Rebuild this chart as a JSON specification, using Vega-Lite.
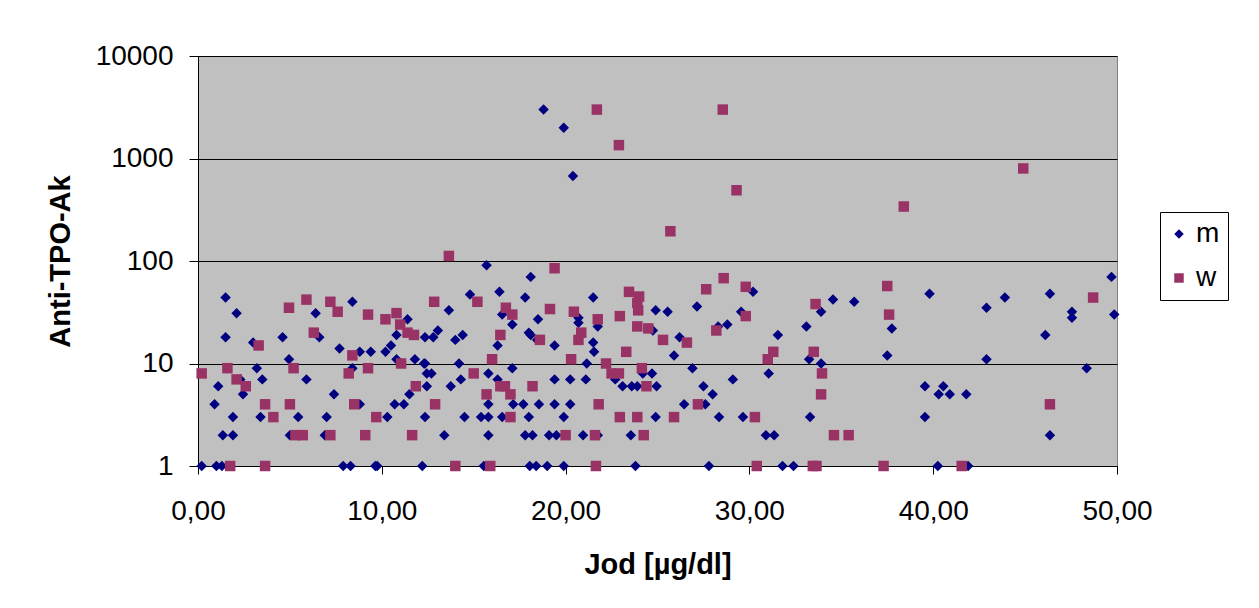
{
"$schema": "https://vega.github.io/schema/vega-lite/v6.json",
"width": 919, "height": 410,
"autosize": {"type": "none"},
"padding": {"left": 198, "top": 56, "right": 142, "bottom": 142},
"background": "white",
"config": {"view": {"fill": "#C0C0C0", "stroke": "#808080", "strokeWidth": 1}, "font": "Liberation Sans"},
"data": {"values": [
{"j":18.8,"a":3000,"g":"m"},{"j":19.9,"a":2000,"g":"m"},{"j":20.4,"a":675,"g":"m"},{"j":15.7,"a":91,"g":"m"},{"j":18.1,"a":70,"g":"m"},{"j":14.8,"a":47,"g":"m"},{"j":16.4,"a":50,"g":"m"},{"j":17.8,"a":44,"g":"m"},{"j":21.5,"a":44,"g":"m"},{"j":24.9,"a":33,"g":"m"},{"j":13.65,"a":33,"g":"m"},{"j":16.55,"a":30,"g":"m"},{"j":18.5,"a":27,"g":"m"},{"j":20.7,"a":28,"g":"m"},{"j":20.7,"a":25,"g":"m"},{"j":21.75,"a":23,"g":"m"},{"j":24.75,"a":21,"g":"m"},{"j":17.1,"a":24,"g":"m"},{"j":13.05,"a":21,"g":"m"},{"j":12.35,"a":18,"g":"m"},{"j":12.8,"a":18,"g":"m"},{"j":14.0,"a":17,"g":"m"},{"j":14.4,"a":19,"g":"m"},{"j":16.3,"a":15,"g":"m"},{"j":18.0,"a":20,"g":"m"},{"j":18.1,"a":19,"g":"m"},{"j":18.45,"a":17,"g":"m"},{"j":19.4,"a":15,"g":"m"},{"j":21.5,"a":16,"g":"m"},{"j":21.55,"a":13,"g":"m"},{"j":12.3,"a":10,"g":"m"},{"j":14.2,"a":10,"g":"m"},{"j":17.1,"a":9,"g":"m"},{"j":21.15,"a":10,"g":"m"},
{"j":0.2,"a":1,"g":"m"},{"j":0.9,"a":4,"g":"m"},{"j":1.1,"a":6,"g":"m"},{"j":1.3,"a":1,"g":"m"},{"j":1.0,"a":1,"g":"m"},{"j":1.35,"a":2,"g":"m"},{"j":1.5,"a":44,"g":"m"},{"j":1.5,"a":18,"g":"m"},{"j":1.9,"a":2,"g":"m"},{"j":1.9,"a":3,"g":"m"},{"j":2.1,"a":31,"g":"m"},{"j":2.3,"a":7,"g":"m"},{"j":2.45,"a":5,"g":"m"},{"j":3.0,"a":16,"g":"m"},{"j":3.2,"a":9,"g":"m"},{"j":3.4,"a":3,"g":"m"},{"j":3.5,"a":7,"g":"m"},{"j":4.6,"a":18,"g":"m"},{"j":4.95,"a":11,"g":"m"},{"j":6.4,"a":31,"g":"m"},{"j":6.6,"a":18,"g":"m"},{"j":8.4,"a":40,"g":"m"},{"j":7.7,"a":14,"g":"m"},{"j":8.8,"a":13,"g":"m"},{"j":9.4,"a":13,"g":"m"},{"j":11.4,"a":27,"g":"m"},{"j":10.8,"a":19,"g":"m"},{"j":10.5,"a":15,"g":"m"},{"j":10.2,"a":13,"g":"m"},{"j":11.8,"a":11,"g":"m"},{"j":12.35,"a":10,"g":"m"},{"j":10.8,"a":11,"g":"m"},{"j":5.0,"a":2,"g":"m"},{"j":5.45,"a":3,"g":"m"},{"j":5.9,"a":7,"g":"m"},{"j":7.0,"a":3,"g":"m"},{"j":7.4,"a":5,"g":"m"},{"j":8.4,"a":9,"g":"m"},{"j":8.8,"a":4,"g":"m"},{"j":6.9,"a":2,"g":"m"},{"j":10.3,"a":3,"g":"m"},{"j":10.7,"a":4,"g":"m"},{"j":11.2,"a":4,"g":"m"},{"j":11.5,"a":5,"g":"m"},{"j":12.35,"a":3,"g":"m"},{"j":12.45,"a":8,"g":"m"},{"j":7.9,"a":1,"g":"m"},{"j":8.3,"a":1,"g":"m"},{"j":9.65,"a":1,"g":"m"},{"j":9.75,"a":1,"g":"m"},{"j":12.2,"a":1,"g":"m"},
{"j":12.7,"a":8,"g":"m"},{"j":14.3,"a":7,"g":"m"},{"j":15.8,"a":8,"g":"m"},{"j":16.3,"a":7,"g":"m"},{"j":12.45,"a":6,"g":"m"},{"j":13.75,"a":6,"g":"m"},{"j":19.4,"a":7,"g":"m"},{"j":20.25,"a":7,"g":"m"},{"j":21.1,"a":7,"g":"m"},{"j":22.7,"a":7,"g":"m"},{"j":23.1,"a":6,"g":"m"},{"j":23.6,"a":6,"g":"m"},{"j":23.9,"a":6,"g":"m"},{"j":24.2,"a":8,"g":"m"},{"j":24.7,"a":8,"g":"m"},{"j":15.8,"a":4,"g":"m"},{"j":17.15,"a":4,"g":"m"},{"j":17.7,"a":4,"g":"m"},{"j":18.55,"a":4,"g":"m"},{"j":19.4,"a":4,"g":"m"},{"j":20.25,"a":4,"g":"m"},{"j":14.5,"a":3,"g":"m"},{"j":15.4,"a":3,"g":"m"},{"j":15.8,"a":3,"g":"m"},{"j":16.55,"a":3,"g":"m"},{"j":18.0,"a":3,"g":"m"},{"j":19.9,"a":3,"g":"m"},{"j":24.9,"a":3,"g":"m"},{"j":13.4,"a":2,"g":"m"},{"j":15.8,"a":2,"g":"m"},{"j":17.8,"a":2,"g":"m"},{"j":18.2,"a":2,"g":"m"},{"j":19.1,"a":2,"g":"m"},{"j":19.5,"a":2,"g":"m"},{"j":20.95,"a":2,"g":"m"},{"j":21.75,"a":2,"g":"m"},{"j":23.55,"a":2,"g":"m"},{"j":15.55,"a":1,"g":"m"},{"j":18.05,"a":1,"g":"m"},{"j":18.4,"a":1,"g":"m"},{"j":19.0,"a":1,"g":"m"},{"j":19.9,"a":1,"g":"m"},{"j":23.8,"a":1,"g":"m"},
{"j":30.2,"a":50,"g":"m"},{"j":27.15,"a":36,"g":"m"},{"j":25.55,"a":32,"g":"m"},{"j":29.55,"a":32,"g":"m"},{"j":28.3,"a":23,"g":"m"},{"j":28.8,"a":24,"g":"m"},{"j":26.2,"a":18,"g":"m"},{"j":25.9,"a":12,"g":"m"},{"j":26.9,"a":9,"g":"m"},{"j":31.55,"a":19,"g":"m"},{"j":33.1,"a":23,"g":"m"},{"j":33.9,"a":32,"g":"m"},{"j":34.55,"a":42,"g":"m"},{"j":35.7,"a":40,"g":"m"},{"j":33.25,"a":11,"g":"m"},{"j":33.9,"a":10,"g":"m"},{"j":37.5,"a":12,"g":"m"},{"j":31.05,"a":8,"g":"m"},{"j":24.95,"a":6,"g":"m"},{"j":27.5,"a":6,"g":"m"},{"j":29.1,"a":7,"g":"m"},{"j":28.0,"a":5,"g":"m"},{"j":26.45,"a":4,"g":"m"},{"j":27.6,"a":4,"g":"m"},{"j":28.35,"a":3,"g":"m"},{"j":29.65,"a":3,"g":"m"},{"j":33.3,"a":3,"g":"m"},{"j":30.9,"a":2,"g":"m"},{"j":31.35,"a":2,"g":"m"},{"j":27.8,"a":1,"g":"m"},{"j":31.8,"a":1,"g":"m"},{"j":32.4,"a":1,"g":"m"},
{"j":37.75,"a":22,"g":"m"},{"j":39.8,"a":48,"g":"m"},{"j":42.9,"a":35,"g":"m"},{"j":43.9,"a":44,"g":"m"},{"j":46.35,"a":48,"g":"m"},{"j":47.55,"a":32,"g":"m"},{"j":47.55,"a":28,"g":"m"},{"j":46.1,"a":19,"g":"m"},{"j":49.7,"a":70,"g":"m"},{"j":49.85,"a":30,"g":"m"},{"j":42.9,"a":11,"g":"m"},{"j":48.35,"a":9,"g":"m"},{"j":39.55,"a":6,"g":"m"},{"j":40.55,"a":6,"g":"m"},{"j":40.3,"a":5,"g":"m"},{"j":40.9,"a":5,"g":"m"},{"j":41.8,"a":5,"g":"m"},{"j":39.55,"a":3,"g":"m"},{"j":46.35,"a":2,"g":"m"},{"j":40.25,"a":1,"g":"m"},{"j":41.9,"a":1,"g":"m"},
{"j":21.7,"a":3000,"g":"w"},{"j":22.9,"a":1350,"g":"w"},{"j":28.55,"a":3000,"g":"w"},{"j":29.3,"a":490,"g":"w"},{"j":25.7,"a":195,"g":"w"},{"j":44.9,"a":800,"g":"w"},{"j":38.4,"a":340,"g":"w"},{"j":13.65,"a":112,"g":"w"},{"j":19.4,"a":85,"g":"w"},
{"j":0.2,"a":8,"g":"w"},{"j":1.6,"a":9,"g":"w"},{"j":1.75,"a":1,"g":"w"},{"j":2.1,"a":7,"g":"w"},{"j":2.6,"a":6,"g":"w"},{"j":3.3,"a":15,"g":"w"},{"j":3.65,"a":4,"g":"w"},{"j":3.65,"a":1,"g":"w"},{"j":4.1,"a":3,"g":"w"},{"j":4.95,"a":35,"g":"w"},{"j":5.9,"a":42,"g":"w"},{"j":6.3,"a":20,"g":"w"},{"j":7.2,"a":40,"g":"w"},{"j":7.6,"a":32,"g":"w"},{"j":8.4,"a":12,"g":"w"},{"j":9.25,"a":30,"g":"w"},{"j":10.2,"a":27,"g":"w"},{"j":10.8,"a":31,"g":"w"},{"j":11.0,"a":24,"g":"w"},{"j":11.4,"a":20,"g":"w"},{"j":11.75,"a":19,"g":"w"},{"j":11.05,"a":10,"g":"w"},{"j":12.85,"a":40,"g":"w"},{"j":5.2,"a":9,"g":"w"},{"j":5.0,"a":4,"g":"w"},{"j":8.2,"a":8,"g":"w"},{"j":9.25,"a":9,"g":"w"},{"j":8.5,"a":4,"g":"w"},{"j":9.7,"a":3,"g":"w"},{"j":11.85,"a":6,"g":"w"},{"j":5.3,"a":2,"g":"w"},{"j":5.7,"a":2,"g":"w"},{"j":7.2,"a":2,"g":"w"},{"j":9.1,"a":2,"g":"w"},{"j":11.65,"a":2,"g":"w"},
{"j":15.2,"a":40,"g":"w"},{"j":16.75,"a":35,"g":"w"},{"j":17.1,"a":30,"g":"w"},{"j":19.15,"a":34,"g":"w"},{"j":20.45,"a":32,"g":"w"},{"j":21.75,"a":27,"g":"w"},{"j":22.95,"a":29,"g":"w"},{"j":23.45,"a":50,"g":"w"},{"j":24.0,"a":45,"g":"w"},{"j":23.9,"a":39,"g":"w"},{"j":23.95,"a":33,"g":"w"},{"j":23.9,"a":23,"g":"w"},{"j":24.5,"a":22,"g":"w"},{"j":16.45,"a":19,"g":"w"},{"j":18.6,"a":17,"g":"w"},{"j":20.85,"a":20,"g":"w"},{"j":20.7,"a":17,"g":"w"},{"j":23.3,"a":13,"g":"w"},{"j":16.0,"a":11,"g":"w"},{"j":20.3,"a":11,"g":"w"},{"j":22.2,"a":10,"g":"w"},{"j":24.15,"a":9,"g":"w"},{"j":15.0,"a":8,"g":"w"},{"j":16.45,"a":6,"g":"w"},{"j":16.7,"a":6,"g":"w"},{"j":18.2,"a":6,"g":"w"},{"j":22.5,"a":8,"g":"w"},{"j":22.9,"a":8,"g":"w"},{"j":24.4,"a":6,"g":"w"},{"j":15.7,"a":5,"g":"w"},{"j":17.0,"a":5,"g":"w"},{"j":12.9,"a":4,"g":"w"},{"j":21.8,"a":4,"g":"w"},{"j":17.0,"a":3,"g":"w"},{"j":22.95,"a":3,"g":"w"},{"j":23.9,"a":3,"g":"w"},{"j":20.0,"a":2,"g":"w"},{"j":21.6,"a":2,"g":"w"},{"j":24.25,"a":2,"g":"w"},{"j":14.0,"a":1,"g":"w"},{"j":15.9,"a":1,"g":"w"},{"j":21.65,"a":1,"g":"w"},
{"j":28.6,"a":68,"g":"w"},{"j":27.65,"a":53,"g":"w"},{"j":29.8,"a":56,"g":"w"},{"j":29.8,"a":29,"g":"w"},{"j":28.2,"a":21,"g":"w"},{"j":26.6,"a":16,"g":"w"},{"j":25.3,"a":17,"g":"w"},{"j":33.6,"a":38,"g":"w"},{"j":37.5,"a":57,"g":"w"},{"j":37.6,"a":30,"g":"w"},{"j":31.3,"a":13,"g":"w"},{"j":31.0,"a":11,"g":"w"},{"j":33.5,"a":13,"g":"w"},{"j":33.95,"a":8,"g":"w"},{"j":33.9,"a":5,"g":"w"},{"j":27.2,"a":4,"g":"w"},{"j":25.9,"a":3,"g":"w"},{"j":30.3,"a":3,"g":"w"},{"j":34.6,"a":2,"g":"w"},{"j":35.4,"a":2,"g":"w"},{"j":30.4,"a":1,"g":"w"},{"j":33.45,"a":1,"g":"w"},{"j":33.65,"a":1,"g":"w"},{"j":37.3,"a":1,"g":"w"},{"j":46.35,"a":4,"g":"w"},{"j":48.7,"a":44,"g":"w"},{"j":41.55,"a":1,"g":"w"}
]},
"mark": {"type": "point", "filled": true, "opacity": 1, "size": 110},
"encoding": {
"x": {"field": "j", "type": "quantitative",
 "scale": {"domain": [0, 50], "nice": false, "zero": false},
 "axis": {"values": [0, 10, 20, 30, 40, 50], "labelExpr": "replace(format(datum.value, '.2f'), '.', ',')", "grid": false, "tickSize": 8, "tickColor": "black", "domainColor": "black", "labelFontSize": 28, "labelColor": "black", "labelPadding": 23, "labelFlush": false, "labelOverlap": false, "title": "Jod [µg/dl]", "titleFontSize": 29, "titleFontWeight": "bold", "titleColor": "black", "titlePadding": 25}},
"y": {"field": "a", "type": "quantitative",
 "scale": {"type": "log", "domain": [1, 10000], "nice": false},
 "axis": {"values": [1, 10, 100, 1000, 10000], "format": "d", "grid": true, "gridColor": "black", "gridWidth": 1, "tickSize": 9, "tickColor": "black", "domainColor": "black", "labelFontSize": 28, "labelColor": "black", "labelPadding": 16, "labelFlush": false, "labelOverlap": false, "title": "Anti-TPO-Ak", "titleFontSize": 29, "titleFontWeight": "bold", "titleColor": "black", "titlePadding": 20}},
"color": {"field": "g", "type": "nominal",
 "scale": {"domain": ["m", "w"], "range": ["#000080", "#993366"]},
 "legend": {"title": null, "orient": "none", "legendX": 962, "legendY": 156, "padding": 8, "strokeColor": "black", "fillColor": "white", "labelFontSize": 28, "labelColor": "black", "symbolSize": 90, "symbolOffset": -3, "labelOffset": 3, "rowPadding": 16}},
"shape": {"field": "g", "type": "nominal",
 "scale": {"domain": ["m", "w"], "range": ["diamond", "square"]}}
}
}
